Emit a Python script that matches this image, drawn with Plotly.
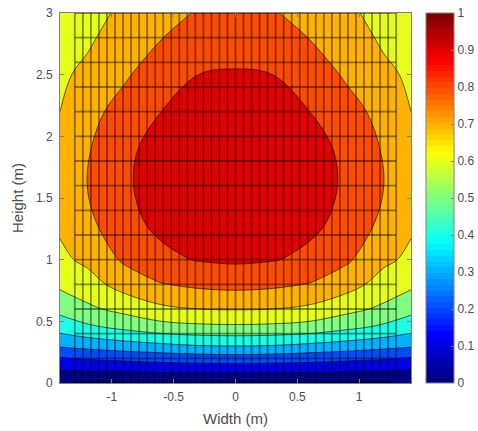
import plotly.graph_objects as go

# ---- data ----
width_m = [-1.42, -1.2, -0.9, -0.6, -0.3, 0.0, 0.3, 0.6, 0.9, 1.2, 1.42]
height_m = [0.0, 0.1, 0.2, 0.3, 0.45, 0.6, 0.8, 1.0, 1.3, 1.6, 1.9, 2.2, 2.5, 2.8, 3.0]
values = [
    [0.0, 0.0, 0.0, 0.0, 0.0, 0.0, 0.0, 0.0, 0.0, 0.0, 0.0],
    [0.095, 0.105, 0.11, 0.118, 0.122, 0.125, 0.122, 0.118, 0.11, 0.105, 0.095],
    [0.19, 0.21, 0.225, 0.24, 0.25, 0.255, 0.25, 0.24, 0.225, 0.21, 0.19],
    [0.31, 0.33, 0.355, 0.375, 0.395, 0.40, 0.395, 0.375, 0.355, 0.33, 0.31],
    [0.44, 0.48, 0.52, 0.56, 0.575, 0.58, 0.575, 0.56, 0.52, 0.48, 0.44],
    [0.53, 0.58, 0.63, 0.68, 0.70, 0.705, 0.70, 0.68, 0.63, 0.58, 0.53],
    [0.62, 0.66, 0.74, 0.795, 0.82, 0.83, 0.82, 0.795, 0.74, 0.66, 0.62],
    [0.68, 0.72, 0.815, 0.88, 0.905, 0.915, 0.905, 0.88, 0.815, 0.72, 0.68],
    [0.715, 0.775, 0.875, 0.92, 0.94, 0.95, 0.94, 0.92, 0.875, 0.775, 0.715],
    [0.725, 0.80, 0.89, 0.93, 0.955, 0.965, 0.955, 0.93, 0.89, 0.80, 0.725],
    [0.72, 0.79, 0.885, 0.925, 0.95, 0.96, 0.95, 0.925, 0.885, 0.79, 0.72],
    [0.70, 0.765, 0.84, 0.90, 0.935, 0.945, 0.935, 0.90, 0.84, 0.765, 0.70],
    [0.685, 0.72, 0.785, 0.862, 0.90, 0.907, 0.90, 0.862, 0.785, 0.72, 0.685],
    [0.67, 0.685, 0.745, 0.797, 0.843, 0.862, 0.843, 0.797, 0.745, 0.685, 0.67],
    [0.66, 0.665, 0.72, 0.773, 0.806, 0.828, 0.806, 0.773, 0.72, 0.665, 0.66],
]
band_levels = [0.0, 0.1, 0.2, 0.3, 0.4, 0.5, 0.6, 0.7, 0.8, 0.9]
x_ticks = [-1, -0.5, 0, 0.5, 1]
x_ticktext = ["-1", "-0.5", "0", "0.5", "1"]
y_ticks = [0, 0.5, 1, 1.5, 2, 2.5, 3]
y_ticktext = ["0", "0.5", "1", "1.5", "2", "2.5", "3"]
cbar_ticks = [0, 0.1, 0.2, 0.3, 0.4, 0.5, 0.6, 0.7, 0.8, 0.9, 1]
cbar_ticktext = ["0", "0.1", "0.2", "0.3", "0.4", "0.5", "0.6", "0.7", "0.8", "0.9", "1"]
mesh_half_width = 1.3
mesh_cols = 40
mesh_row_step = 0.2
mesh_top = 3.0


def jet(t):
    def c(v):
        return max(0.0, min(1.0, v))
    r = c(1.5 - abs(4 * t - 3))
    g = c(1.5 - abs(4 * t - 2))
    b = c(1.5 - abs(4 * t - 1))
    return f"rgb({round(r*255)},{round(g*255)},{round(b*255)})"


# stepped colorscale for filled bands
n_b = len(band_levels)
band_scale = []
for k, lv in enumerate(band_levels):
    col = jet(lv)
    band_scale.append([k / n_b, col])
    band_scale.append([(k + 1) / n_b, col])

# 64-step jet for colorbar
bar_scale = []
for i in range(64):
    col = jet(i / 63)
    bar_scale.append([i / 64, col])
    bar_scale.append([(i + 1) / 64, col])

fig = go.Figure()
fig.add_trace(go.Contour(
    x=width_m, y=height_m, z=values,
    autocontour=False,
    contours=dict(start=band_levels[1], end=band_levels[-1], size=0.1, coloring="fill"),
    colorscale=band_scale,
    line=dict(color="black", width=0.6, smoothing=1.0),
    showscale=False,
    hoverinfo="skip",
))

# mesh overlay
mx, my = [], []
xs = [-mesh_half_width + 2 * mesh_half_width * k / mesh_cols for k in range(mesh_cols + 1)]
for xv in xs:
    mx += [xv, xv, None]
    my += [0, mesh_top, None]
n_rows = round(mesh_top / mesh_row_step)
for j in range(n_rows + 1):
    yv = j * mesh_row_step
    mx += [-mesh_half_width, mesh_half_width, None]
    my += [yv, yv, None]
fig.add_trace(go.Scatter(
    x=mx, y=my, mode="lines",
    line=dict(color="rgba(0,0,0,0.42)", width=1.9),
    hoverinfo="skip", showlegend=False,
))

# colorbar carrier
fig.add_trace(go.Scatter(
    x=[0], y=[-5], mode="markers",
    marker=dict(size=1, color=[0], cmin=0, cmax=1, colorscale=bar_scale, showscale=True,
                colorbar=dict(
                    x=1.0427, xanchor="left", xpad=0, y=0.5, yanchor="middle", len=1, ypad=0,
                    thickness=28, outlinewidth=1, outlinecolor="#808080",
                    tickvals=cbar_ticks, ticktext=cbar_ticktext,
                    ticks="inside", ticklen=3, tickcolor="#808080",
                    tickfont=dict(size=12, color="#4d4d4d"),
                )),
    hoverinfo="skip", showlegend=False,
))

axis_common = dict(
    ticks="inside", ticklen=4, tickcolor="#808080",
    showline=True, linecolor="#808080", linewidth=1, mirror="ticks",
    showgrid=False, zeroline=False,
    tickfont=dict(size=12, color="#4d4d4d"),
)
fig.update_xaxes(range=[-1.42, 1.42], tickvals=x_ticks, ticktext=x_ticktext,
                 title=dict(text="Width (m)", font=dict(size=15, color="#4d4d4d"), standoff=10),
                 ticklabelstandoff=3, **axis_common)
fig.update_yaxes(range=[0, 3], tickvals=y_ticks, ticktext=y_ticktext,
                 title=dict(text="Height (m)", font=dict(size=15, color="#4d4d4d"), standoff=8),
                 ticklabelstandoff=4, **axis_common)
fig.update_layout(
    width=478, height=431,
    margin=dict(l=60, r=67, t=13, b=48, autoexpand=False),
    paper_bgcolor="white", plot_bgcolor="white",
    font=dict(family="Liberation Sans, Arial, sans-serif", size=12, color="#4d4d4d"),
    showlegend=False,
)
fig.write_html("out.html")
